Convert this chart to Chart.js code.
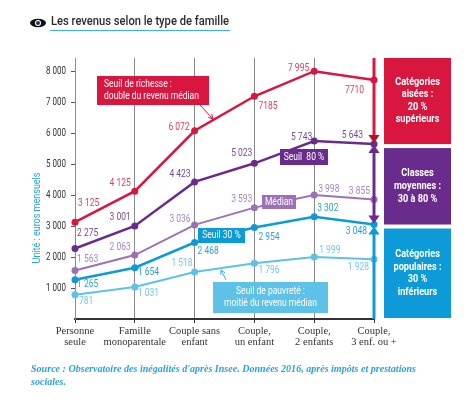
<!DOCTYPE html>
<html>
<head>
<meta charset="utf-8">
<script src="https://cdn.jsdelivr.net/npm/chart.js@4"></script>
<style>
  body { margin: 0; background: #fff; }
  #wrap { position: relative; width: 470px; height: 401px; }
</style>
</head>
<body>
<div id="wrap"><canvas id="chart" width="470" height="401"></canvas></div>
<script>
const categories = [
    ['Personne', 'seule'],
    ['Famille', 'monoparentale'],
    ['Couple sans', 'enfant'],
    ['Couple,', 'un enfant'],
    ['Couple,', '2 enfants'],
    ['Couple,', '3 enf. ou +']
];
const seuilRichesse = [3125, 4125, 6072, 7185, 7995, 7710];
const seuil80 = [2275, 3001, 4423, 5023, 5743, 5643];
const median = [1563, 2063, 3036, 3593, 3998, 3855];
const seuil30 = [1265, 1654, 2468, 2954, 3302, 3048];
const seuilPauvrete = [781, 1031, 1518, 1796, 1999, 1928];
const yTicks = [1000, 2000, 3000, 4000, 5000, 6000, 7000, 8000];

// label placement next to each point: [dx, dy], dx < 0 means text ends left of the point
const labelOffsets = [
    [[3, -19], [-4, -8], [-5, -3], [4, 10], [-5, -3], [-10, 10]],
    [[2, -15], [-4, -8], [-4, -7], [-2, -10], [-2, -3], [-11, -9]],
    [[2, -11], [-4, -8], [-4, -5], [-2, -8], [4, -6], [-4, -8]],
    [[2, 5], [3, 5], [3, 9], [4, 10], [3, -8], [-7, 7]],
    [[4, 7], [3, 6], [-2, -8], [4, 7], [5, -7], [-5, 8]]
];

const RED = '#d8163e';
const PURPLE = '#6a2c8c';
const MAUVE = '#9b72b7';
const BLUE = '#0d9ad8';
const SKY = '#5ec2e8';

const spaced = v => String(v).replace(/\B(?=(\d{3})+(?!\d))/g, ' ');
const fmt = v => v === 7185 || v === 7710 ? String(v) : spaced(v);
const SANS = 'Roboto, "Noto Sans", sans-serif';
const SQ = 0.85;

// draw text squeezed horizontally (narrow look)
function txt(ctx, s, x, y, align, sx) {
    ctx.save();
    ctx.translate(x, y);
    ctx.scale(sx || SQ, 1);
    ctx.textAlign = align;
    ctx.fillText(s, 0, 0);
    ctx.restore();
}

function box(ctx, x, y, w, h, color, lines, align, font, lh, sx) {
    ctx.fillStyle = color;
    ctx.fillRect(x, y, w, h);
    ctx.fillStyle = '#fff';
    ctx.font = font;
    ctx.textBaseline = 'middle';
    const tx = align === 'center' ? x + w / 2 : x + 7;
    const y0 = y + h / 2 - (lines.length - 1) * lh / 2;
    lines.forEach((l, i) => txt(ctx, l, tx, y0 + i * lh, align, sx));
}

function arrowHead(ctx, x, y, dir, size, color) {
    ctx.fillStyle = color;
    ctx.beginPath();
    ctx.moveTo(x, y);
    ctx.lineTo(x - size * 0.7, y - dir * size);
    ctx.lineTo(x + size * 0.7, y - dir * size);
    ctx.closePath();
    ctx.fill();
}

function thinArrow(ctx, x1, y1, x2, y2, color) {
    ctx.strokeStyle = color;
    ctx.lineWidth = 1;
    ctx.beginPath();
    ctx.moveTo(x1, y1);
    ctx.lineTo(x2, y2);
    ctx.stroke();
    const a = Math.atan2(y2 - y1, x2 - x1);
    ctx.beginPath();
    ctx.moveTo(x2 - 5 * Math.cos(a - 0.5), y2 - 5 * Math.sin(a - 0.5));
    ctx.lineTo(x2, y2);
    ctx.lineTo(x2 - 5 * Math.cos(a + 0.5), y2 - 5 * Math.sin(a + 0.5));
    ctx.stroke();
}

const decorations = {
    id: 'decorations',
    afterDatasetsDraw(chart) {
        const ctx = chart.ctx;
        const x = chart.scales.x, y = chart.scales.y;
        const area = chart.chartArea;
        ctx.save();

        // y tick labels
        ctx.font = '10px ' + SANS;
        ctx.fillStyle = '#333';
        ctx.textBaseline = 'middle';
        yTicks.forEach(v => txt(ctx, spaced(v), 66, y.getPixelForValue(v), 'right', 0.8));

        // value labels
        ctx.font = '10px ' + SANS;
        chart.data.datasets.forEach((ds, i) => {
            const meta = chart.getDatasetMeta(i);
            ds.data.forEach((v, j) => {
                const p = meta.data[j];
                const [dx, dy] = labelOffsets[i][j];
                ctx.fillStyle = ds.labelColor;
                txt(ctx, fmt(v), p.x + dx, p.y + dy, dx < 0 ? 'right' : 'left');
            });
        });

        // tier arrows on the last category
        const last = categories.length - 1;
        const xr = x.getPixelForValue(last);
        const y80 = y.getPixelForValue(seuil80[last]);
        const y30 = y.getPixelForValue(seuil30[last]);
        ctx.lineWidth = 3;
        ctx.strokeStyle = RED;
        ctx.beginPath(); ctx.moveTo(xr, area.top); ctx.lineTo(xr, y80 - 6); ctx.stroke();
        arrowHead(ctx, xr, y80 - 1, 1, 8, '#b5102e');
        ctx.strokeStyle = PURPLE;
        ctx.beginPath(); ctx.moveTo(xr, y80 + 6); ctx.lineTo(xr, y30 - 6); ctx.stroke();
        arrowHead(ctx, xr, y80 + 1, -1, 8, PURPLE);
        arrowHead(ctx, xr, y30 - 1, 1, 8, PURPLE);
        ctx.strokeStyle = BLUE;
        ctx.beginPath(); ctx.moveTo(xr, y30 + 6); ctx.lineTo(xr, area.bottom); ctx.stroke();
        arrowHead(ctx, xr, y30 + 2, -1, 8, BLUE);

        // tier boxes
        const bx = 384, bw = 67;
        const bold = 'bold 10.5px ' + SANS;
        box(ctx, bx, area.top, bw, y80 - area.top, RED, ['Catégories', 'aisées :', '20 %', 'supérieurs'], 'center', bold, 12.5, 0.87);
        box(ctx, bx, y80 + 4, bw, y30 - y80 - 4, PURPLE, ['Classes', 'moyennes :', '30 à 80 %'], 'center', bold, 13, 0.87);
        box(ctx, bx, y30 + 4, bw, area.bottom - y30 - 5, BLUE, ['Catégories', 'populaires :', '30 %', 'inférieurs'], 'center', bold, 12.5, 0.87);

        // callouts
        const f = '10px ' + SANS;
        box(ctx, 97, 76, 112, 29, RED, ['Seuil de richesse :', 'double du revenu médian'], 'left', f, 12);
        thinArrow(ctx, 200, 105, 213, 119, RED);
        box(ctx, 280, 149, 48, 16, PURPLE, ['Seuil  80 %'], 'center', f, 12);
        box(ctx, 262, 195, 34, 14, MAUVE, ['Médian'], 'center', f, 12);
        box(ctx, 198, 228, 47, 15, BLUE, ['Seuil 30 %'], 'center', f, 12);
        box(ctx, 213, 282, 115, 31, SKY, ['Seuil de pauvreté :', 'moitié du revenu médian'], 'center', f, 12);
        thinArrow(ctx, 226, 280, 221, 270, '#3ab0e0');

        ctx.restore();
    },
    afterDraw(chart) {
        const ctx = chart.ctx;
        ctx.save();
        // eye icon
        ctx.fillStyle = '#111';
        ctx.beginPath();
        ctx.ellipse(38, 23, 8, 4.2, 0, 0, Math.PI * 2);
        ctx.fill();
        ctx.fillStyle = '#fff';
        ctx.beginPath(); ctx.arc(38, 23, 3, 0, Math.PI * 2); ctx.fill();
        ctx.fillStyle = '#1c3550';
        ctx.beginPath(); ctx.arc(38, 23, 2, 0, Math.PI * 2); ctx.fill();
        // title
        ctx.fillStyle = '#2b2b2b';
        ctx.font = '500 13.5px ' + SANS;
        ctx.textBaseline = 'middle';
        const title = 'Les revenus selon le type de famille';
        txt(ctx, title, 51, 22, 'left', 178 / ctx.measureText(title).width);
        ctx.strokeStyle = '#3ab0e0';
        ctx.lineWidth = 1;
        ctx.beginPath(); ctx.moveTo(50, 30.5); ctx.lineTo(230, 30.5); ctx.stroke();
        // axis title
        ctx.save();
        ctx.translate(37, 218);
        ctx.rotate(-Math.PI / 2);
        ctx.fillStyle = '#2aa3dd';
        ctx.font = '10px ' + SANS;
        txt(ctx, 'Unité : euros mensuels', 0, 0, 'center', 0.9);
        ctx.restore();
        // source
        ctx.fillStyle = '#2aa3dd';
        ctx.font = 'italic bold 10px "Liberation Serif", "DejaVu Serif", serif';
        const src = 'Source : Observatoire des inégalités d\'après Insee. Données 2016, après impôts et prestations';
        txt(ctx, src, 31, 369, 'left', 385 / ctx.measureText(src).width);
        txt(ctx, 'sociales.', 31, 382, 'left', 385 / ctx.measureText(src).width);
        ctx.restore();
    }
};

function line(data, color, labelColor, width) {
    return {
        data: data,
        borderColor: color,
        backgroundColor: color,
        pointBackgroundColor: color,
        pointBorderWidth: 0,
        pointRadius: 3.5,
        borderWidth: width,
        labelColor: labelColor,
        tension: 0
    };
}

new Chart(document.getElementById('chart'), {
    type: 'line',
    data: {
        labels: categories,
        datasets: [
            line(seuilRichesse, RED, '#e0405e', 2.5),
            line(seuil80, PURPLE, '#7a4a9c', 2.5),
            line(median, MAUVE, '#a886c2', 2),
            line(seuil30, BLUE, '#2aa0db', 2.5),
            line(seuilPauvrete, SKY, '#72c9ec', 2)
        ]
    },
    options: {
        responsive: false,
        animation: false,
        layout: { padding: { left: 30, right: 96, top: 58, bottom: 0 } },
        plugins: { legend: { display: false }, tooltip: { enabled: false } },
        scales: {
            x: {
                offset: false,
                afterFit: s => { s.height = 82; },
                grid: { color: '#8a8a8a', lineWidth: 1, tickLength: 4, tickColor: '#333' },
                border: { color: '#333', width: 2 },
                ticks: {
                    padding: 3,
                    maxRotation: 0,
                    autoSkip: false,
                    color: '#333',
                    font: { family: '"Liberation Serif", "DejaVu Serif", serif', size: 10.5, lineHeight: 1.05 }
                }
            },
            y: {
                min: 0,
                max: 8420,
                afterFit: s => { s.width = 45; },
                afterBuildTicks: s => { s.ticks = yTicks.map(v => ({ value: v })); },
                grid: { drawOnChartArea: false, tickLength: 4, color: '#555' },
                border: { color: '#8a8a8a', width: 1 },
                ticks: {
                    padding: 3,
                    color: 'rgba(0,0,0,0)',
                    font: { family: SANS, size: 10 }
                }
            }
        }
    },
    plugins: [decorations]
});
</script>
</body>
</html>
